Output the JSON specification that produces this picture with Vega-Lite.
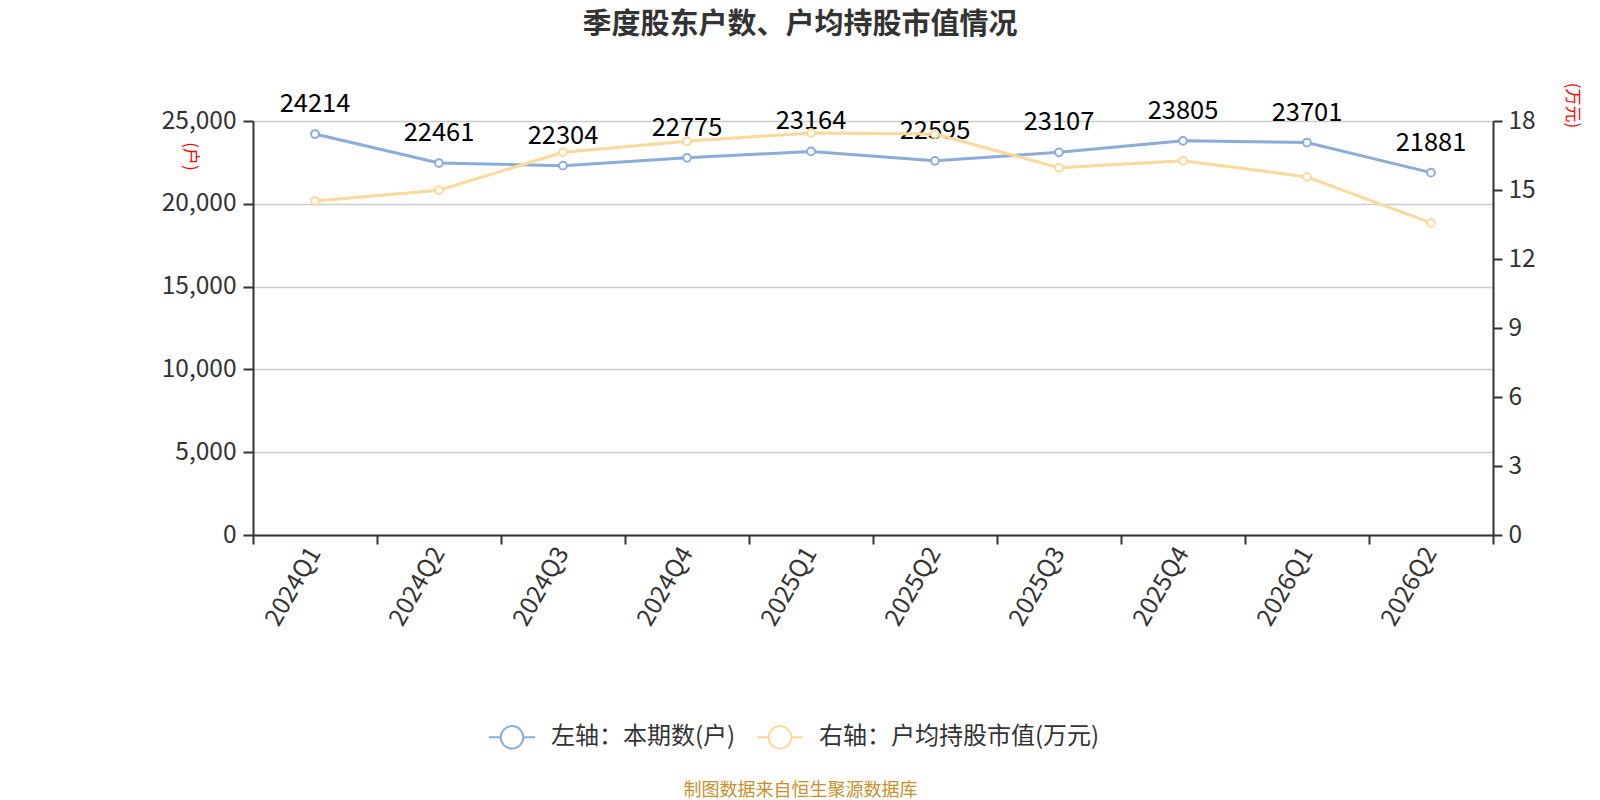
{
  "$schema": "https://vega.github.io/schema/vega-lite/v6.json",
  "width": 1240,
  "height": 414,
  "autosize": "none",
  "padding": {"left": 253, "top": 121, "right": 107, "bottom": 265},
  "background": "white",
  "config": {
    "font": "Noto Sans CJK SC",
    "view": {"stroke": null}
  },
  "title": {
    "text": "季度股东户数、户均持股市值情况",
    "fontSize": 29,
    "fontWeight": "bold",
    "color": "#333333",
    "anchor": "middle",
    "frame": "group",
    "dx": -73,
    "offset": 42
  },
  "data": {
    "values": [
      {"quarter": "2024Q1", "series": "左轴：本期数(户)", "value": 24214},
      {"quarter": "2024Q2", "series": "左轴：本期数(户)", "value": 22461},
      {"quarter": "2024Q3", "series": "左轴：本期数(户)", "value": 22304},
      {"quarter": "2024Q4", "series": "左轴：本期数(户)", "value": 22775},
      {"quarter": "2025Q1", "series": "左轴：本期数(户)", "value": 23164},
      {"quarter": "2025Q2", "series": "左轴：本期数(户)", "value": 22595},
      {"quarter": "2025Q3", "series": "左轴：本期数(户)", "value": 23107},
      {"quarter": "2025Q4", "series": "左轴：本期数(户)", "value": 23805},
      {"quarter": "2026Q1", "series": "左轴：本期数(户)", "value": 23701},
      {"quarter": "2026Q2", "series": "左轴：本期数(户)", "value": 21881},
      {"quarter": "2024Q1", "series": "右轴：户均持股市值(万元)", "value": 14.52},
      {"quarter": "2024Q2", "series": "右轴：户均持股市值(万元)", "value": 14.99},
      {"quarter": "2024Q3", "series": "右轴：户均持股市值(万元)", "value": 16.64},
      {"quarter": "2024Q4", "series": "右轴：户均持股市值(万元)", "value": 17.12},
      {"quarter": "2025Q1", "series": "右轴：户均持股市值(万元)", "value": 17.48},
      {"quarter": "2025Q2", "series": "右轴：户均持股市值(万元)", "value": 17.43},
      {"quarter": "2025Q3", "series": "右轴：户均持股市值(万元)", "value": 15.97},
      {"quarter": "2025Q4", "series": "右轴：户均持股市值(万元)", "value": 16.27},
      {"quarter": "2026Q1", "series": "右轴：户均持股市值(万元)", "value": 15.57},
      {"quarter": "2026Q2", "series": "右轴：户均持股市值(万元)", "value": 13.57}
    ]
  },
  "encoding": {
    "x": {
      "field": "quarter",
      "type": "nominal",
      "sort": null,
      "scale": {"paddingInner": 0, "paddingOuter": 0},
      "axis": {
        "title": "制图数据来自恒生聚源数据库",
        "titleColor": "#c8902a",
        "titleFontSize": 18,
        "titleFontWeight": "normal",
        "titleX": 547,
        "titleY": 255,
        "titleAlign": "center",
        "titleBaseline": "middle",
        "tickBand": "extent",
        "labelAngle": -60,
        "labelAlign": "right",
        "labelBaseline": "middle",
        "labelFontSize": 24.5,
        "labelColor": "#333333",
        "labelPadding": 5,
        "tickSize": 9,
        "tickWidth": 2,
        "tickColor": "#333333",
        "domainColor": "#333333",
        "domainWidth": 2,
        "grid": false
      }
    },
    "color": {
      "field": "series",
      "type": "nominal",
      "sort": ["左轴：本期数(户)", "右轴：户均持股市值(万元)"],
      "scale": {
        "domain": ["左轴：本期数(户)", "右轴：户均持股市值(万元)"],
        "range": ["#8aacda", "#fdd898"]
      },
      "legend": {
        "title": null,
        "orient": "none",
        "direction": "horizontal",
        "legendX": 235,
        "legendY": 592,
        "symbolType": "M-1,0L-0.49,0M0.49,0L1,0M0.49,0A0.49,0.49 0 1 1 -0.49,0A0.49,0.49 0 1 1 0.49,0",
        "symbolSize": 2116,
        "symbolStrokeWidth": 2,
        "symbolFillColor": "white",
        "labelFontSize": 24,
        "labelColor": "#333333",
        "labelOffset": 15,
        "labelLimit": 0,
        "columnPadding": 17
      }
    }
  },
  "layer": [
    {
      "transform": [{"filter": "datum.series === '左轴：本期数(户)'"}],
      "encoding": {
        "y": {
          "field": "value",
          "type": "quantitative",
          "scale": {"domain": [0, 25000], "nice": false},
          "axis": {
            "orient": "left",
            "title": "(户)",
            "titleColor": "red",
            "titleFontSize": 17,
            "titleFontWeight": "normal",
            "titleAngle": 90,
            "titleX": -64,
            "titleY": 35,
            "titleAlign": "center",
            "titleBaseline": "middle",
            "values": [0, 5000, 10000, 15000, 20000, 25000],
            "format": ",d",
            "labelFontSize": 24.5,
            "labelColor": "#333333",
            "labelPadding": 7,
            "tickSize": 10,
            "tickWidth": 2,
            "tickColor": "#333333",
            "domainColor": "#333333",
            "domainWidth": 2,
            "grid": true,
            "gridColor": "#cccccc",
            "gridWidth": 1.5
          }
        }
      },
      "layer": [
        {"mark": {"type": "line", "strokeWidth": 3}},
        {"mark": {"type": "point", "filled": false, "fill": "white", "fillOpacity": 1, "size": 60, "strokeWidth": 2, "opacity": 1}},
        {
          "mark": {"type": "text", "dy": -30, "fontSize": 25.5},
          "encoding": {"text": {"field": "value", "type": "quantitative", "format": "d"}, "color": {"value": "black"}}
        }
      ]
    },
    {
      "transform": [{"filter": "datum.series === '右轴：户均持股市值(万元)'"}],
      "encoding": {
        "y": {
          "field": "value",
          "type": "quantitative",
          "scale": {"domain": [0, 18], "nice": false},
          "axis": {
            "orient": "right",
            "title": "(万元)",
            "titleColor": "red",
            "titleFontSize": 17,
            "titleFontWeight": "normal",
            "titleAngle": 90,
            "titleX": 78,
            "titleY": -16,
            "titleAlign": "center",
            "titleBaseline": "middle",
            "values": [0, 3, 6, 9, 12, 15, 18],
            "labelFontSize": 24.5,
            "labelColor": "#333333",
            "labelPadding": 6,
            "tickSize": 9,
            "tickWidth": 2,
            "tickColor": "#333333",
            "domainColor": "#333333",
            "domainWidth": 2,
            "grid": false
          }
        }
      },
      "layer": [
        {"mark": {"type": "line", "strokeWidth": 3}},
        {"mark": {"type": "point", "filled": false, "fill": "white", "fillOpacity": 1, "size": 60, "strokeWidth": 2, "opacity": 1}}
      ]
    }
  ],
  "resolve": {"scale": {"y": "independent"}}
}
